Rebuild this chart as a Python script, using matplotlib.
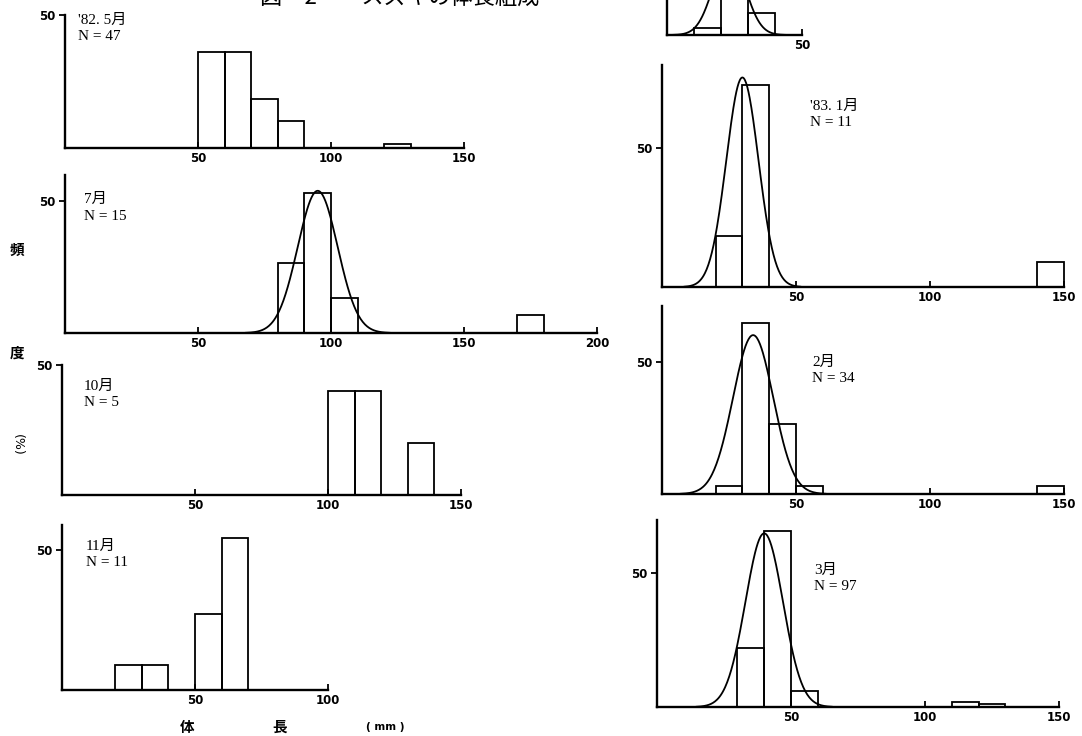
import numpy as np
import matplotlib.pyplot as plt

plt.rcParams['font.family'] = ['Liberation Serif', 'Noto Sans CJK JP']

W, H = 1082, 736

# body length bins (left edge, mm, width 10) and frequency (%)
may82_left = [50, 60, 70, 80, 120]
may82_pct = [36, 36, 18.5, 10, 1.5]
jul_left = [80, 90, 100, 170]
jul_pct = [26.7, 53.3, 13.3, 6.7]
oct_left = [100, 110, 130]
oct_pct = [40, 40, 20]
nov_left = [20, 30, 50, 60]
nov_pct = [9.1, 9.1, 27.3, 54.5]
dec_left = [10, 20, 30]
dec_pct = [2.5, 40, 8]
jan_left = [20, 30, 140]
jan_pct = [18.2, 72.7, 9.1]
feb_left = [20, 30, 40, 50, 140]
feb_pct = [2.9, 64.7, 26.5, 2.9, 2.9]
mar_left = [30, 40, 50, 110, 120]
mar_pct = [22, 66, 6, 2, 1]

# fitted normal curves: mean (mm), sd (mm), peak (%)
jul_fit = (95, 7.5, 54)
dec_fit = (23, 5.8, 30)
jan_fit = (30, 6.0, 75.5)
feb_fit = (34, 7.5, 60)
mar_fit = (40, 7.0, 65)

month_labels = ["'82. 5月", "7月", "10月", "11月", "'83. 1月", "2月", "3月"]
n_labels = ["N = 47", "N = 15", "N = 5", "N = 11", "N = 11", "N = 34", "N = 97"]

fig = plt.figure(figsize=(W / 100, H / 100), dpi=100)
fig.patch.set_facecolor('white')


def panel(x0, x1, y_top, y_base, xmax, ymax, left, pct, fit=None,
          xticks=(50, 100, 150), label=None, nlab=None, lab_xy=None):
    ax = fig.add_axes([x0 / W, 1 - y_base / H, (x1 - x0) / W, (y_base - y_top) / H])
    ax.set_xlim(0, xmax)
    ax.set_ylim(0, ymax)
    ax.patch.set_alpha(0)
    for s in ['top', 'right']:
        ax.spines[s].set_visible(False)
    for s in ['left', 'bottom']:
        ax.spines[s].set_linewidth(1.7)
    ax.bar(left, pct, width=10, align='edge', fill=False,
           edgecolor='black', linewidth=1.3, clip_on=False)
    if fit is not None:
        m, sd, pk = fit
        xs = np.linspace(m - 3.6 * sd, m + 3.6 * sd, 200)
        ax.plot(xs, pk * np.exp(-(xs - m) ** 2 / (2 * sd ** 2)),
                color='black', lw=1.3, clip_on=False)
    ax.set_xticks(list(xticks))
    ax.set_xticklabels([str(t) for t in xticks], fontfamily='DejaVu Sans',
                       fontweight='bold', fontsize=8.5)
    ax.tick_params(axis='x', direction='in', length=4, width=1.3, pad=3)
    ax.set_yticks([50])
    ax.set_yticklabels(['50'], fontfamily='DejaVu Sans', fontweight='bold', fontsize=8.5)
    ax.tick_params(axis='y', direction='out', length=4, width=1.3, pad=3)
    if lab_xy is not None:
        lx, ly = lab_xy
        fig.text(lx / W, 1 - ly / H, label, fontsize=11, va='center', ha='left')
        fig.text(lx / W, 1 - (ly + 17) / H, nlab, fontsize=11, va='center', ha='left')
    return ax


# left column
panel(65, 464, 15, 148, 150, 50, may82_left, may82_pct,
      label=month_labels[0], nlab=n_labels[0], lab_xy=(78, 20))
panel(65, 597, 175, 333, 200, 60, jul_left, jul_pct, fit=jul_fit,
      xticks=(50, 100, 150, 200),
      label=month_labels[1], nlab=n_labels[1], lab_xy=(84, 199))
panel(62, 461, 365, 495, 150, 50, oct_left, oct_pct,
      label=month_labels[2], nlab=n_labels[2], lab_xy=(84, 386))
panel(62, 328, 525, 690, 100, 59, nov_left, nov_pct, xticks=(50, 100),
      label=month_labels[3], nlab=n_labels[3], lab_xy=(86, 546))

# right column (top panel cut off by the page edge)
ax0 = panel(667, 802, -235, 35, 50, 100, dec_left, dec_pct, fit=dec_fit, xticks=(50,))
ax0.set_yticks([])
panel(662, 1064, 65, 287, 150, 80, jan_left, jan_pct, fit=jan_fit,
      label=month_labels[4], nlab=n_labels[4], lab_xy=(810, 106))
panel(662, 1064, 306, 494, 150, 71, feb_left, feb_pct, fit=feb_fit,
      label=month_labels[5], nlab=n_labels[5], lab_xy=(812, 362))
panel(657, 1059, 520, 707, 150, 70, mar_left, mar_pct, fit=mar_fit,
      label=month_labels[6], nlab=n_labels[6], lab_xy=(814, 570))

# title (top half cut off by the page edge, as in the scan)
fig.text(400 / W, 1 + 2 / H, '図　2　　スズキの体長組成', fontsize=16, ha='center',
         va='center', family=['Noto Sans CJK JP', 'DejaVu Sans'])

# axis labels
cjk = ['Noto Sans CJK JP', 'DejaVu Sans']
for ch, y in [('頻', 250), ('度', 353)]:
    fig.text(17 / W, 1 - y / H, ch, fontsize=10.5, ha='center', va='center',
             family=cjk, fontweight='bold')
fig.text(17 / W, 1 - 445 / H, '(%)', fontsize=9, ha='center', va='center', rotation=270,
         family=['DejaVu Sans'])
fig.text(187 / W, 1 - 727 / H, '体', fontsize=10.5, ha='center', va='center',
         family=cjk, fontweight='bold')
fig.text(280 / W, 1 - 727 / H, '長', fontsize=10.5, ha='center', va='center',
         family=cjk, fontweight='bold')
fig.text(385 / W, 1 - 727 / H, '( mm )', fontsize=7.5, ha='center', va='center',
         family=['DejaVu Sans'], fontweight='bold')

fig.savefig('out.png', dpi=100)
